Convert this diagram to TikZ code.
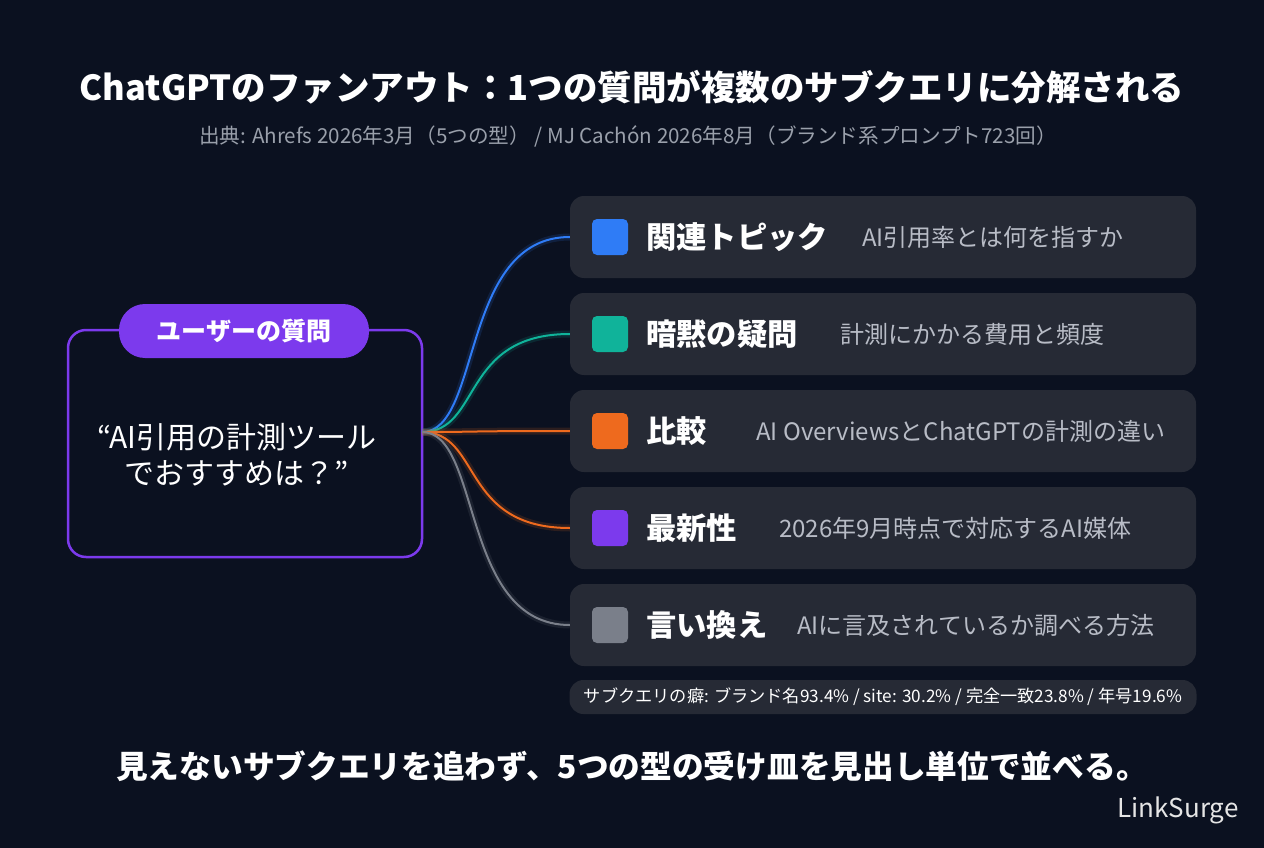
\documentclass[tikz,border=0pt]{standalone}
\usepackage{fontspec}
\setmainfont{Noto Sans CJK JP}
\usetikzlibrary{positioning}
\definecolor{bg}{HTML}{0B1120}
\definecolor{card}{HTML}{262A35}
\definecolor{cblue}{HTML}{2F7CF6}
\definecolor{cteal}{HTML}{10B39A}
\definecolor{corange}{HTML}{EE6A1E}
\definecolor{cpurple}{HTML}{7C3AED}
\definecolor{cgray}{HTML}{7A7F8A}
\definecolor{subgray}{HTML}{9AA0AB}
\definecolor{descgray}{HTML}{B8BCC6}
\tikzset{
card/.style={fill=card, rounded corners=14pt, minimum width=626pt, minimum height=82pt, inner sep=0pt},
chip/.style={rounded corners=5pt, minimum size=36pt, inner sep=0pt},
cat/.style={text=white, font=\fontsize{30.3}{34}\selectfont\bfseries, anchor=west, inner sep=0pt},
desc/.style={text=descgray, font=\fontsize{24}{28}\selectfont, anchor=west, inner sep=0pt},
link/.style={line width=2pt},
glow/.style={line width=7pt, opacity=0.15}
}
\begin{document}
\begin{tikzpicture}[x=1pt,y=-1pt]
\fill[bg] (0,0) rectangle (1264,848);
\useasboundingbox (0,0) rectangle (1264,848);
% title
\node (title) at (632,87) {\fontsize{34.5}{38}\selectfont\bfseries\color{white}ChatGPTのファンアウト：1つの質問が複数のサブクエリに分解される};
\node (source) at (628,136) {\fontsize{20.6}{24}\selectfont\color{subgray}出典: Ahrefs 2026年3月（5つの型） / MJ Cachón 2026年8月（ブランド系プロンプト723回）};
% user question
\draw[cpurple, line width=2.5pt, rounded corners=18pt] (68,330) rectangle (422,557);
\node (quote) at (237,455) [align=center, text=white, font=\fontsize{30}{36}\selectfont] {“AI引用の計測ツール\\でおすすめは？”};
\node (pill) at (244,331) [fill=cpurple, rounded corners=26pt, minimum width=250pt, minimum height=54pt, text=white, font=\fontsize{25}{28}\selectfont\bfseries] {ユーザーの質問};
\coordinate (hub) at (422,432);
% cards
\foreach \n/\y/\col/\cat/\dx/\desc in {
 1/237/cblue/関連トピック/862/AI引用率とは何を指すか,
 2/334/cteal/暗黙の疑問/840/計測にかかる費用と頻度,
 3/431/corange/比較/756/AI OverviewsとChatGPTの計測の違い,
 4/528/cpurple/最新性/779/2026年9月時点で対応するAI媒体,
 5/625/cgray/言い換え/797/AIに言及されているか調べる方法}
{
 \node[card] (card\n) at (883,\y) {};
 \node[chip, fill=\col] (chip\n) at (610,\y) {};
 \node[cat] (cat\n) at (646,\y) {\cat};
 \node[desc] (desc\n) at (\dx,\y) {\desc};
}
% connectors
\foreach \n/\col in {1/cblue,2/cteal,3/corange,4/corange,5/cgray}
{
 \draw[glow, \col] (hub) .. controls +(60,0) and +(-110,0) .. (card\n.west);
 \draw[link, \col] (hub) .. controls +(60,0) and +(-110,0) .. (card\n.west);
}
% footnote
\node (note) at (883,697) [fill=card, rounded corners=14pt, minimum width=627pt, minimum height=34pt, text=white, font=\fontsize{17.2}{19}\selectfont] {サブクエリの癖: ブランド名93.4\% / site: 30.2\% / 完全一致23.8\% / 年号19.6\%};
\node (takeaway) at (632,766) {\fontsize{31.7}{35}\selectfont\bfseries\color{white}見えないサブクエリを追わず、5つの型の受け皿を見出し単位で並べる。};
\node (brand) at (1178,810) {\fontsize{26}{30}\selectfont\color{white!90!black}LinkSurge};
\end{tikzpicture}
\end{document}
